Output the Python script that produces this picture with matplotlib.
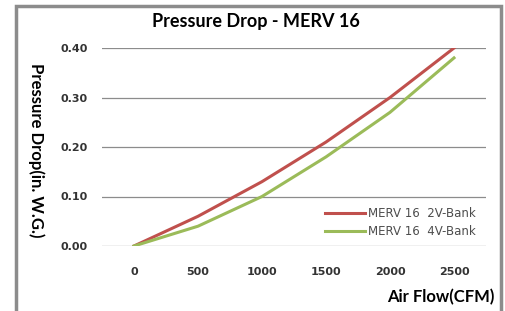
import matplotlib
matplotlib.use("Agg")
import matplotlib.pyplot as plt
from matplotlib.patches import Rectangle

airflow = [0, 500, 1000, 1500, 2000, 2500]
bank_2v = [0.0, 0.06, 0.13, 0.21, 0.30, 0.40]
bank_4v = [0.0, 0.04, 0.10, 0.18, 0.27, 0.38]
yticks = [0.0, 0.1, 0.2, 0.3, 0.4]

plt.rcParams['font.family'] = ['Lato', 'DejaVu Sans']

fig = plt.figure(figsize=(5.06, 3.11), dpi=100)
fig.patches.append(Rectangle((16/506, -0.1), 485/506, 1.1 - 6/311, transform=fig.transFigure,
                             fill=False, edgecolor='#8c8c8c', linewidth=2.5))

ax = fig.add_axes([102/506, 1 - 246/311, 384/506, 198/311])
ax.plot(airflow, bank_2v, color='#C0504D', lw=2.2, label='MERV 16  2V-Bank')
ax.plot(airflow, bank_4v, color='#9BBB59', lw=2.2, label='MERV 16  4V-Bank')

ax.set_xlim(-250, 2750)
ax.set_ylim(0, 0.4)
ax.set_xticks(airflow)
ax.set_xticklabels([str(v) for v in airflow], fontsize=8, fontweight='bold',
                   family='DejaVu Sans', color='#333333')
ax.set_yticks(yticks)
ax.set_yticklabels([f"{v:.2f}" for v in yticks], fontsize=8, fontweight='bold',
                   family='DejaVu Sans', color='#333333')
ax.tick_params(axis='both', length=0)
ax.tick_params(axis='x', pad=15)
ax.tick_params(axis='y', pad=10)
ax.grid(axis='y', color='#8c8c8c', lw=0.9)
ax.set_axisbelow(True)
for s in ax.spines.values():
    s.set_visible(False)

fig.text(256/506, 1 - 22/311, 'Pressure Drop - MERV 16', ha='center', va='center',
         fontsize=13, fontweight='bold')
fig.text(36/506, 1 - 150/311, 'Pressure Drop(in. W.G.)', ha='center', va='center',
         rotation=270, fontsize=12, fontweight='bold')
fig.text(494/506, 1 - 297/311, 'Air Flow(CFM)', ha='right', va='center',
         fontsize=12, fontweight='bold')

leg = ax.legend(loc='lower right', bbox_to_anchor=(1.0, -0.015), frameon=False,
                handlelength=3.4, handletextpad=0.25, labelspacing=0.45,
                prop={'family': 'DejaVu Sans', 'size': 8.5})
for t in leg.get_texts():
    t.set_color('#4d4d4d')

fig.savefig('out.png', dpi=100)
